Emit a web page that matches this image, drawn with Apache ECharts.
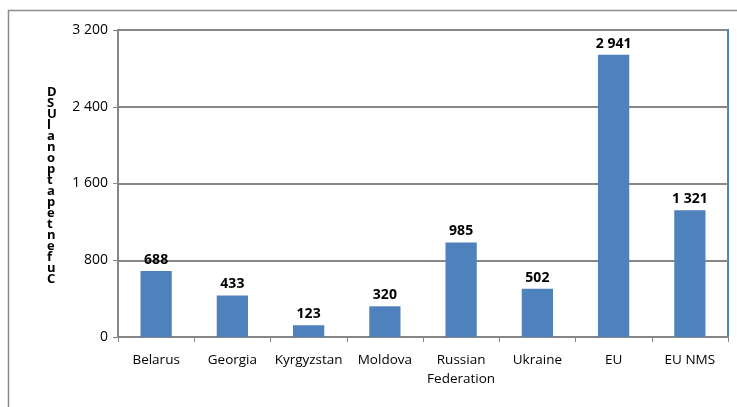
<!DOCTYPE html>
<html><head><meta charset="utf-8">
<script src="https://cdn.jsdelivr.net/npm/echarts@6/dist/echarts.min.js"></script>
<style>html,body{margin:0;padding:0;background:#fff}#c{width:737px;height:407px}</style>
</head><body><div id="c"></div>
<script>
const categories = ["Belarus","Georgia","Kyrgyzstan","Moldova","Russian\nFederation","Ukraine","EU","EU NMS"];
const values = [688,433,123,320,985,502,2941,1321];
const yTicks = [0,800,1600,2400,3200];
const yTitle = "DSUlanoptapetnefuC";

function fmt(v){return String(v).replace(/\B(?=(\d{3})+(?!\d))/g,' ');}
const font = '"Open Sans",sans-serif';
const chart = echarts.init(document.getElementById('c'));
chart.setOption({
  animation:false,
  graphic:[
    {type:'rect',shape:{x:8.5,y:10.5,width:740,height:410},style:{fill:'none',stroke:'#8c8c8c',lineWidth:1.5},z:-1},
    {type:'text',left:47,top:86,style:{text:yTitle.split('').join('\n'),font:'bold 13px '+font,lineHeight:11,fill:'#000',align:'center'}}
  ],
  grid:{left:118,right:9,top:30,bottom:70,show:true,borderColor:'#4f81bd',borderWidth:2},
  xAxis:{type:'category',data:categories,
    axisLine:{lineStyle:{color:'#868686',width:2}},
    axisTick:{show:true,length:5,lineStyle:{color:'#868686'}},
    axisLabel:{interval:0,color:'#000',fontSize:13.5,fontFamily:font,margin:14,lineHeight:19}},
  yAxis:{type:'value',min:yTicks[0],max:yTicks[yTicks.length-1],interval:800,
    axisLine:{show:true,lineStyle:{color:'#868686',width:2}},
    axisTick:{show:true,length:5,lineStyle:{color:'#868686'}},
    splitLine:{lineStyle:{color:'#868686',width:2}},
    axisLabel:{color:'#000',fontSize:14,fontFamily:font,margin:10,formatter:v=>fmt(v)}},
  series:[{type:'bar',data:values,barWidth:'41%',
    itemStyle:{color:'#4f81bd'},
    label:{show:true,position:'top',distance:4,color:'#000',fontWeight:'bold',fontSize:14,fontFamily:font,formatter:p=>fmt(p.value)}}]
});
</script></body></html>
